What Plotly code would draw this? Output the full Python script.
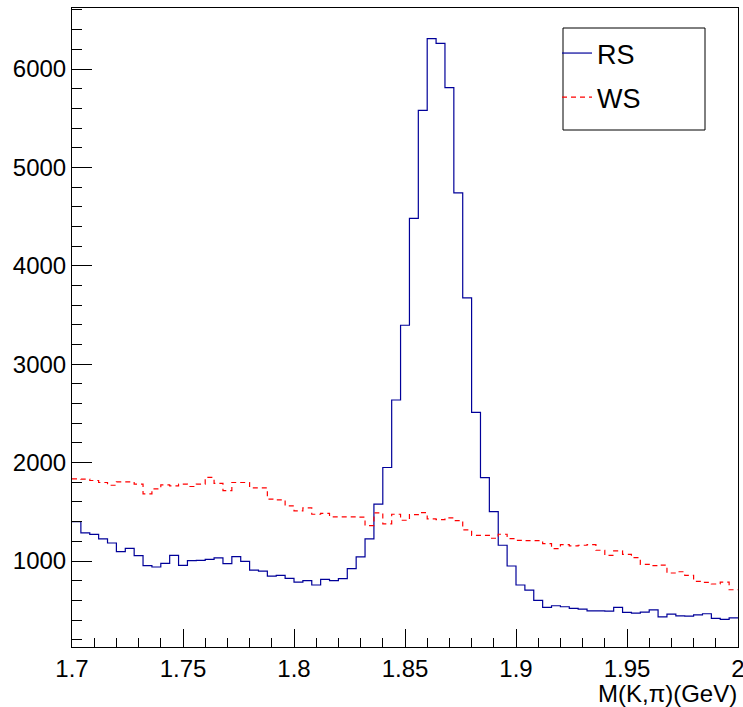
import numpy as np
import plotly.graph_objects as go

# ---- data ----
x_min, x_max, n_bins = 1.7, 2.0, 75

rs_counts = [1400, 1285, 1271, 1224, 1183, 1095, 1129, 1054, 952, 939,
             976, 1058, 956, 1003, 1007, 1017, 1031, 973, 1044, 997,
             908, 898, 847, 854, 824, 786, 800, 756, 813, 800,
             820, 922, 1041, 1224, 1577, 1950, 2636, 3396, 4483, 5579,
             6309, 6261, 5810, 4741, 3675, 2510, 1848, 1502, 1160, 949,
             756, 705, 600, 528, 545, 535, 518, 511, 494, 494,
             491, 528, 477, 470, 481, 504, 433, 460, 443, 440,
             453, 464, 416, 406, 423]

ws_counts = [1835, 1832, 1818, 1798, 1770, 1804, 1804, 1781, 1683, 1733,
             1774, 1764, 1781, 1757, 1781, 1849, 1788, 1716, 1798, 1798,
             1743, 1743, 1628, 1621, 1560, 1509, 1540, 1475, 1485, 1448,
             1448, 1448, 1445, 1360, 1489, 1377, 1475, 1414, 1472, 1492,
             1428, 1421, 1438, 1411, 1316, 1261, 1261, 1231, 1272, 1227,
             1210, 1207, 1207, 1176, 1126, 1166, 1153, 1160, 1166, 1109,
             1058, 1102, 1068, 1034, 966, 952, 959, 878, 891, 854,
             793, 783, 766, 786, 708]

x_tickvals = [1.7, 1.75, 1.8, 1.85, 1.9, 1.95, 2.0]
x_ticktext = ["1.7", "1.75", "1.8", "1.85", "1.9", "1.95", "2"]
y_tickvals = [1000, 2000, 3000, 4000, 5000, 6000]
y_ticktext = ["1000", "2000", "3000", "4000", "5000", "6000"]

series_names = ["RS", "WS"]
x_title = "M(K,π)(GeV)"

# ---- build ----
edges = np.linspace(x_min, x_max, n_bins + 1)

def step_xy(counts):
    return list(edges), list(counts) + [counts[-1]]

FONT = "Liberation Sans, Arial, Helvetica, sans-serif"

fig = go.Figure()
xr, yr = step_xy(rs_counts)
fig.add_trace(go.Scatter(x=xr, y=yr, mode="lines", line_shape="hv",
                         line=dict(color="#000099", width=1.2),
                         name=series_names[0], legendgroup="a"))
xw, yw = step_xy(ws_counts)
fig.add_trace(go.Scatter(x=xw, y=yw, mode="lines", line_shape="hv",
                         line=dict(color="#ff0000", width=1.2, dash="5px,4px"),
                         name=series_names[1], legendgroup="b"))

W, H = 743, 707
L, R, T, B = 72, 5, 8, 60
pw, ph = W - L - R, H - T - B

def px_x(px):
    return (px - L) / pw

def px_y(py):
    return (H - B - py) / ph

fig.update_layout(
    width=W, height=H,
    margin=dict(l=L, r=R, t=T, b=B, autoexpand=False),
    paper_bgcolor="white", plot_bgcolor="white",
    font=dict(family=FONT, size=24, color="black"),
    showlegend=True,
    legend=dict(x=px_x(557), y=px_y(29), xanchor="left", yanchor="top",
                bgcolor="rgba(0,0,0,0)", borderwidth=0,
                font=dict(family=FONT, size=27, color="black"),
                tracegroupgap=6, traceorder="grouped", itemwidth=30),
    shapes=[dict(type="rect", xref="paper", yref="paper",
                 x0=px_x(563), x1=px_x(705), y0=px_y(130), y1=px_y(28),
                 line=dict(color="black", width=1), fillcolor="rgba(0,0,0,0)")],
    annotations=[dict(text=x_title, xref="paper", yref="paper",
                      x=1.0, y=px_y(708), xanchor="right", yanchor="bottom",
                      borderpad=0, showarrow=False,
                      font=dict(family=FONT, size=24, color="black"))],
)

fig.update_xaxes(
    range=[x_min, x_max], showgrid=False, zeroline=False, automargin=False,
    showline=True, mirror=True, linecolor="black", linewidth=1,
    ticks="inside", ticklen=18, tickwidth=1, tickcolor="black",
    tickmode="array", tickvals=x_tickvals, ticktext=x_ticktext,
    ticklabeloverflow="allow",
    tickfont=dict(family=FONT, size=24, color="black"),
    minor=dict(ticks="inside", ticklen=9, tickwidth=1, tickcolor="black",
               dtick=0.01, tick0=1.7, showgrid=False),
)
fig.update_yaxes(
    range=[126, 6620], showgrid=False, zeroline=False, automargin=False,
    showline=True, mirror=True, linecolor="black", linewidth=1,
    ticks="inside", ticklen=20, tickwidth=1, tickcolor="black",
    tickmode="array", tickvals=y_tickvals, ticktext=y_ticktext,
    tickfont=dict(family=FONT, size=24, color="black"),
    minor=dict(ticks="inside", ticklen=10, tickwidth=1, tickcolor="black",
               dtick=200, tick0=0, showgrid=False),
)

fig.write_html("out.html")
